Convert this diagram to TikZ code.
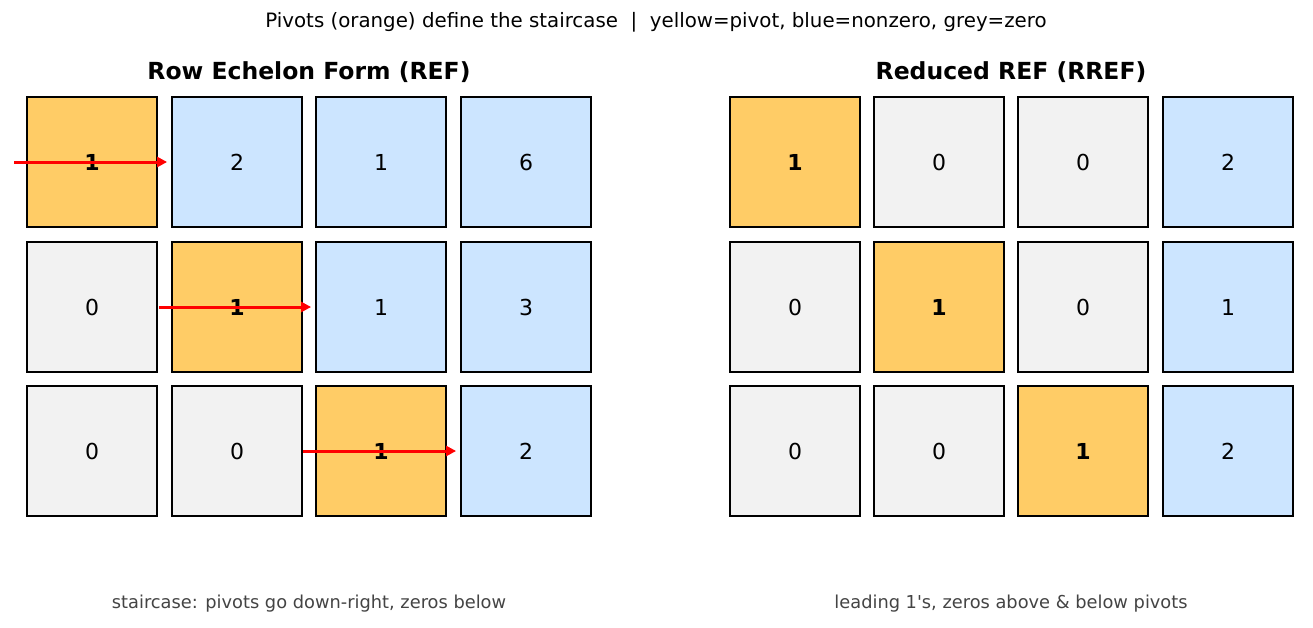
\documentclass[tikz,border=0pt]{standalone}
\usepackage{fontspec}
\setmainfont{DejaVu Sans}
\usepackage{tikz}
\usetikzlibrary{positioning,arrows.meta}
\definecolor{pivotfill}{HTML}{FFCC66}
\definecolor{nonzerofill}{HTML}{CCE5FF}
\definecolor{zerofill}{HTML}{F2F2F2}
\definecolor{notegrey}{HTML}{444444}
\tikzset{
  cellbox/.style={draw=black, line width=1.8pt, minimum size=130pt, inner sep=0pt, font=\fontsize{22}{26}\selectfont},
  pivotcell/.style={cellbox, fill=pivotfill, font=\fontsize{22}{26}\selectfont\bfseries},
  valcell/.style={cellbox, fill=nonzerofill},
  zerocell/.style={cellbox, fill=zerofill},
  pivarrow/.style={-{Triangle[length=10pt, width=10pt]}, red, line width=3pt},
  headtext/.style={font=\fontsize{23.5}{27}\selectfont\bfseries},
  notetext/.style={font=\fontsize{17.8}{21}\selectfont, text=notegrey}
}
\begin{document}
\begin{tikzpicture}[x=1pt, y=-1pt]
  \useasboundingbox[fill=white] (0,0) rectangle (1313,627);
  \node[font=\fontsize{19.8}{23}\selectfont] (title) at (656,22) {Pivots (orange) define the staircase \ | \ yellow=pivot, blue=nonzero, grey=zero};
  % left: row echelon form
  \node[headtext] (lhead) at (309,72) {Row Echelon Form (REF)};
  \node[pivotcell] (l11) at (92,162) {1};
  \node[valcell] (l12) at (237,162) {2};
  \node[valcell] (l13) at (381,162) {1};
  \node[valcell] (l14) at (526,162) {6};
  \node[zerocell] (l21) at (92,307) {0};
  \node[pivotcell] (l22) at (237,307) {1};
  \node[valcell] (l23) at (381,307) {1};
  \node[valcell] (l24) at (526,307) {3};
  \node[zerocell] (l31) at (92,451) {0};
  \node[zerocell] (l32) at (237,451) {0};
  \node[pivotcell] (l33) at (381,451) {1};
  \node[valcell] (l34) at (526,451) {2};
  \draw[pivarrow] ([xshift=-12pt]l11.west) -- ([xshift=-4pt]l12.west);
  \draw[pivarrow] ([xshift=-12pt]l22.west) -- ([xshift=-4pt]l23.west);
  \draw[pivarrow] ([xshift=-12pt]l33.west) -- ([xshift=-4pt]l34.west);
  \node[notetext] (lnote) at (309,604) {staircase: pivots go down-right, zeros below};
  % right: reduced form
  \node[headtext] (rhead) at (1011,72) {Reduced REF (RREF)};
  \node[pivotcell] (r11) at (795,162) {1};
  \node[zerocell] (r12) at (939,162) {0};
  \node[zerocell] (r13) at (1083,162) {0};
  \node[valcell] (r14) at (1228,162) {2};
  \node[zerocell] (r21) at (795,307) {0};
  \node[pivotcell] (r22) at (939,307) {1};
  \node[zerocell] (r23) at (1083,307) {0};
  \node[valcell] (r24) at (1228,307) {1};
  \node[zerocell] (r31) at (795,451) {0};
  \node[zerocell] (r32) at (939,451) {0};
  \node[pivotcell] (r33) at (1083,451) {1};
  \node[valcell] (r34) at (1228,451) {2};
  \node[notetext] (rnote) at (1011,604) {leading 1\textquotesingle s, zeros above \& below pivots};
\end{tikzpicture}
\end{document}
